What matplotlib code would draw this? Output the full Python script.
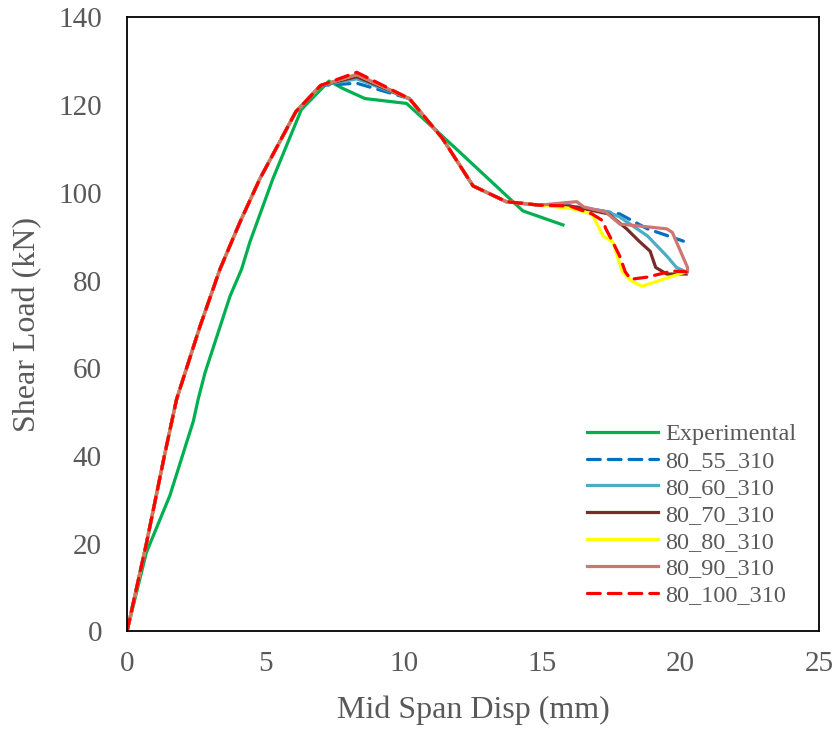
import numpy as np
import matplotlib.pyplot as plt

plt.rcParams['font.family'] = ['Liberation Serif', 'DejaVu Serif']

# experimental curve
exp_x = [0, 0.7, 1.55, 2.4, 2.57, 2.82, 3.72, 4.14, 4.44, 5.27, 6.3, 7.3, 7.8, 8.6, 10.1, 11.9, 14.3, 15.75]
exp_y = [0, 18, 31, 48, 52.9, 59, 76.4, 82.6, 88.8, 103.2, 119, 125.5, 123.8, 121.5, 120.4, 110, 95.9, 92.7]

# shared rising / descending branch of the numerical models
rise_x = [0, 0.7, 1.35, 1.79, 2.64, 3.36, 4.08, 4.8, 6.1, 7.0, 8.3, 10.2, 11.4, 12.5, 13.7, 14.9]
rise_y = [0, 20, 40, 52.9, 69.6, 82.6, 93.3, 103.2, 118.5, 124.5, 127, 121.5, 112.4, 101.6, 98, 97.2]
peak_y = {"80_55_310": 125, "80_60_310": 126, "80_70_310": 126.5,
          "80_80_310": 127, "80_90_310": 127, "80_100_310": 127.5}

# tails after the plateau (post-peak softening)
tail_55_x = [16.0, 16.8, 17.8, 18.8, 20.1]
tail_55_y = [97, 96.3, 95.2, 91.8, 89.0]
tail_60_x = [16.0, 16.8, 17.4, 17.8, 18.8, 19.5, 19.85, 20.2]
tail_60_y = [97, 96.3, 95.6, 94.5, 90.2, 85.6, 83, 82]
tail_70_x = [16.0, 16.8, 17.4, 18.05, 18.5, 18.9, 19.1, 19.5, 20.2]
tail_70_y = [97, 96, 95.2, 91.8, 89, 86.7, 83, 81.5, 81.5]
tail_80_x = [16.0, 16.8, 17.2, 17.55, 17.9, 18.2, 18.6, 20.2]
tail_80_y = [96.5, 95.2, 90.2, 88.8, 82, 80, 78.7, 82]
tail_90_x = [16.25, 16.5, 17.3, 17.8, 19.5, 19.7, 20.25, 20.25]
tail_90_y = [98, 96.8, 95.6, 92.9, 91.8, 91, 83, 82]
tail_100_x = [16.0, 16.8, 17.2, 17.3, 17.55, 17.8, 18.0, 18.2, 18.8, 19.7, 20.2]
tail_100_y = [97, 95.2, 93.6, 91.8, 88.8, 85.6, 82, 80.3, 80.8, 82.2, 82]

labels = ["Experimental", "80_55_310", "80_60_310", "80_70_310",
          "80_80_310", "80_90_310", "80_100_310"]
colors = ["#00B050", "#0070C0", "#4BACC6", "#772C2A", "#FFFF00", "#CD7672", "#FF0000"]
styles = ["-", (0, (4, 2.5)), "-", "-", "-", "-", (0, (4, 2.5))]

tails = {"80_55_310": (tail_55_x, tail_55_y), "80_60_310": (tail_60_x, tail_60_y),
         "80_70_310": (tail_70_x, tail_70_y), "80_80_310": (tail_80_x, tail_80_y),
         "80_90_310": (tail_90_x, tail_90_y), "80_100_310": (tail_100_x, tail_100_y)}

fig = plt.figure(figsize=(8.37, 7.33), dpi=100)
ax = fig.add_axes([0.1517, 0.1385, 0.8268, 0.8377])

ax.plot(exp_x, exp_y, color=colors[0], ls=styles[0], lw=2.3, label=labels[0])
for i, name in enumerate(labels[1:], start=1):
    ry = list(rise_y)
    ry[10] = peak_y[name]
    tx, ty = tails[name]
    ax.plot(rise_x + tx, ry + ty, color=colors[i], ls=styles[i], lw=2.3, label=name,
            solid_joinstyle="round", dash_capstyle="round")

ax.set_xlim(0, 25)
ax.set_ylim(0, 140)
ax.set_xticks(np.arange(0, 26, 5))
ax.set_yticks(np.arange(0, 141, 20))
ax.tick_params(length=0, labelsize=21, colors="#595959")
ax.tick_params(axis="x", pad=14)
ax.tick_params(axis="y", pad=18)
for s in ax.spines.values():
    s.set_linewidth(1.3)
ax.set_xlabel("Mid Span Disp (mm)", fontsize=23, color="#595959", va="center")
ax.set_ylabel("Shear Load (kN)", fontsize=23, color="#595959", va="center")
ax.xaxis.set_label_coords(0.5, -0.128)
ax.yaxis.set_label_coords(-0.143, 0.5)

leg = ax.legend(loc="lower right", bbox_to_anchor=(1.0, 0.004), frameon=False,
                fontsize=17.5, handlelength=2.9, labelspacing=0.2, handletextpad=0.3,
                labelcolor="#595959", borderaxespad=0.53)

plt.savefig("out.png", dpi=100)
